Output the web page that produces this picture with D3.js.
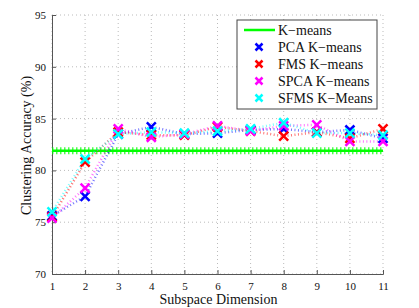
<!DOCTYPE html>
<html>
<head>
<meta charset="utf-8">
<script src="https://cdn.jsdelivr.net/npm/d3@7"></script>
<style>
  body { margin: 0; background: #fff; }
  text { font-family: "Liberation Serif", "Times New Roman", serif; fill: #111; }
</style>
</head>
<body>
<svg id="chart" width="419" height="308"></svg>
<script>
const dims = [1, 2, 3, 4, 5, 6, 7, 8, 9, 10, 11];
const kmeans = 81.9;
const pca  = [75.6, 77.5, 83.5, 84.2, 83.5, 83.6, 83.9, 84.0, 83.7, 83.9, 83.1];
const fms  = [75.5, 80.8, 83.7, 83.4, 83.4, 84.2, 83.8, 83.3, 83.7, 83.1, 84.0];
const spca = [75.4, 78.3, 84.0, 83.2, 83.5, 84.3, 83.8, 84.3, 84.4, 82.8, 82.8];
const sfms = [76.0, 81.1, 83.5, 83.7, 83.6, 83.8, 84.0, 84.6, 83.6, 83.6, 83.4];
const yTicks = [70, 75, 80, 85, 90, 95];

const series = [
  { name: "PCA K\u2212means", values: pca, color: "#0000ff" },
  { name: "FMS K\u2212means", values: fms, color: "#ff0000" },
  { name: "SPCA K\u2212means", values: spca, color: "#ff00ff" },
  { name: "SFMS K\u2212Means", values: sfms, color: "#00ffff" }
];

const margin = { top: 15, right: 36, bottom: 34, left: 52 };
const width = 419 - margin.left - margin.right;
const height = 308 - margin.top - margin.bottom;

const svg = d3.select("#chart")
  .append("g")
  .attr("transform", `translate(${margin.left},${margin.top})`);

const x = d3.scaleLinear().domain([1, 11]).range([0, width]);
const y = d3.scaleLinear().domain([70, 95]).range([height, 0]);

// dotted grid
svg.append("g")
  .selectAll("line.vg")
  .data(dims)
  .enter().append("line")
  .attr("x1", d => x(d)).attr("x2", d => x(d))
  .attr("y1", 0).attr("y2", height)
  .attr("stroke", "#bbb").attr("stroke-width", 1)
  .attr("stroke-dasharray", "1,3");

svg.append("g")
  .selectAll("line.hg")
  .data(yTicks)
  .enter().append("line")
  .attr("x1", 0).attr("x2", width)
  .attr("y1", d => y(d)).attr("y2", d => y(d))
  .attr("stroke", "#bbb").attr("stroke-width", 1)
  .attr("stroke-dasharray", "1,3");

// axes
const xAxis = d3.axisBottom(x).tickValues(dims).tickSize(-4).tickPadding(8).tickFormat(d3.format("d"));
const yAxis = d3.axisLeft(y).tickValues(yTicks).tickSize(-4).tickPadding(6);

svg.append("g")
  .attr("transform", `translate(0,${height})`)
  .call(xAxis)
  .call(g => g.select(".domain").attr("stroke", "#555"))
  .call(g => g.selectAll(".tick line").attr("stroke", "#555"))
  .call(g => g.selectAll("text").attr("font-size", 11).attr("font-family", "Liberation Serif"));

svg.append("g")
  .call(yAxis)
  .call(g => g.select(".domain").attr("stroke", "#555"))
  .call(g => g.selectAll(".tick line").attr("stroke", "#555"))
  .call(g => g.selectAll("text").attr("font-size", 11).attr("font-family", "Liberation Serif"));

// K-means baseline
svg.append("line")
  .attr("x1", x(1)).attr("x2", x(11))
  .attr("y1", y(kmeans)).attr("y2", y(kmeans))
  .attr("stroke", "#00ff00").attr("stroke-width", 7)
  .attr("stroke-dasharray", "1.5,2.5").attr("opacity", 0.7);
svg.append("line")
  .attr("x1", x(1)).attr("x2", x(11))
  .attr("y1", y(kmeans)).attr("y2", y(kmeans))
  .attr("stroke", "#00ff00").attr("stroke-width", 2.5);

// series lines
const line = d3.line().x((d, i) => x(dims[i])).y(d => y(d));
series.forEach(s => {
  svg.append("path")
    .datum(s.values)
    .attr("d", line)
    .attr("fill", "none")
    .attr("stroke", s.color)
    .attr("stroke-width", 2.5)
    .attr("stroke-dasharray", "1,2.5")
    .attr("opacity", 0.55);
});

// X markers
function cross(g, cx, cy, color, r) {
  g.append("path")
    .attr("d", `M${cx - r},${cy - r}L${cx + r},${cy + r}M${cx - r},${cy + r}L${cx + r},${cy - r}`)
    .attr("stroke", color).attr("stroke-width", 2.5).attr("fill", "none");
}
series.forEach(s => {
  const g = svg.append("g");
  s.values.forEach((v, i) => cross(g, x(dims[i]), y(v), s.color, 4.5));
});

// axis titles
svg.append("text")
  .attr("x", width / 2 + 1).attr("y", height + 30)
  .attr("text-anchor", "middle").attr("font-size", 14)
  .text("Subspace Dimension");

svg.append("text")
  .attr("transform", `translate(${-21},${height / 2 + 1}) rotate(-90)`)
  .attr("text-anchor", "middle").attr("font-size", 14)
  .text("Clustering Accuracy (%)");

// legend
const leg = svg.append("g").attr("transform", `translate(${237 - margin.left},${20 - margin.top})`);
leg.append("rect")
  .attr("width", 140).attr("height", 89)
  .attr("fill", "#fff").attr("stroke", "#444").attr("stroke-width", 1);

const legItems = [{ name: "K\u2212means", color: "#00ff00", isLine: true }].concat(series);
legItems.forEach((d, i) => {
  const cy = 10 + i * 17;
  if (d.isLine) {
    leg.append("line")
      .attr("x1", 7).attr("x2", 38).attr("y1", cy).attr("y2", cy)
      .attr("stroke", d.color).attr("stroke-width", 2.5);
  } else {
    cross(leg, 22, cy, d.color, 3.5);
  }
  leg.append("text")
    .attr("x", 41).attr("y", cy + 4.5)
    .attr("font-size", 14)
    .text(d.name);
});
</script>
</body>
</html>
